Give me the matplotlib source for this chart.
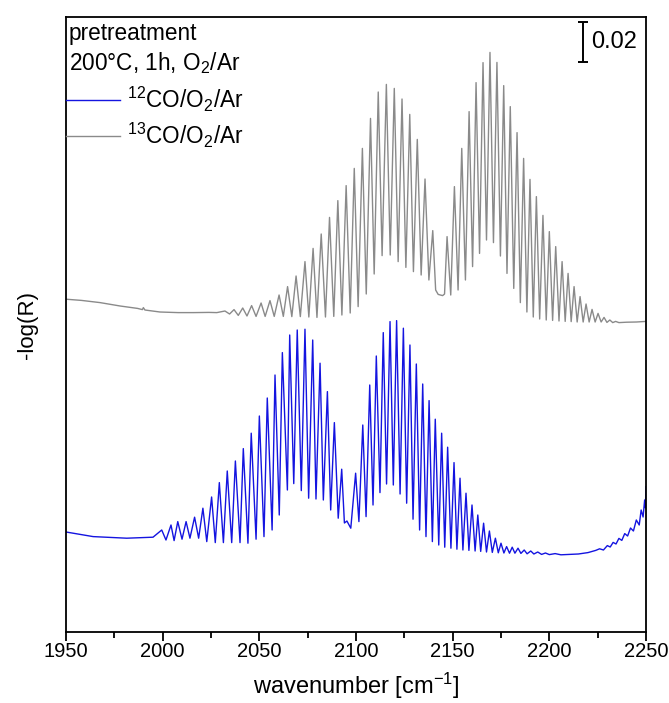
import matplotlib
matplotlib.use("Agg")
from matplotlib import pyplot as plt

plt.rcParams['font.family'] = ['Liberation Sans', 'DejaVu Sans']
plt.rcParams['mathtext.fontset'] = 'custom'
plt.rcParams['mathtext.rm'] = 'Liberation Sans'
plt.rcParams['mathtext.it'] = 'Liberation Sans:italic'

### 12CO/O2/Ar spectrum (blue), peaks and troughs
blue_wn = [1950.0, 1964.0, 1981.4, 1995.0,
           1999.5, 2001.7, 2004.3, 2005.9, 2007.8, 2010.0, 2012.1, 2014.1,
           2016.5, 2018.6, 2020.8, 2022.8, 2025.3, 2027.2, 2029.3, 2031.4,
           2033.4, 2035.7, 2037.6, 2040.0, 2041.7, 2044.1, 2045.8, 2048.3,
           2050.0, 2052.4, 2054.1, 2056.6, 2058.1, 2060.3, 2061.9, 2064.5,
           2065.7, 2067.8, 2069.6, 2071.7, 2073.6, 2075.5, 2077.6, 2079.3,
           2081.4, 2083.1, 2085.2, 2086.9, 2088.8, 2090.8, 2092.6, 2094.0,
           2095.3, 2097.3,
           2099.8, 2101.5, 2103.5, 2105.2, 2107.1, 2108.8, 2110.5, 2112.4,
           2114.1, 2115.8, 2117.6, 2119.3, 2121.0, 2122.8, 2124.5, 2126.2,
           2127.9, 2129.5, 2131.2, 2132.9, 2134.5, 2136.2, 2137.8, 2139.5,
           2141.0, 2142.8, 2144.3, 2145.9, 2147.4, 2149.1, 2150.7, 2152.2,
           2153.8, 2155.3, 2156.9, 2158.4, 2160.0, 2161.6, 2163.0, 2164.5,
           2166.0, 2167.5, 2169.0, 2170.5, 2172.1, 2173.6, 2175.0, 2176.5,
           2177.9, 2179.4, 2180.8, 2182.2, 2183.8, 2185.3, 2187.0, 2188.5,
           2190.4, 2192.0, 2194.0, 2196.0, 2198.0, 2200.0, 2203.0, 2206.0,
           2210.0, 2215.0, 2220.0, 2224.0, 2226.0, 2228.0, 2230.0, 2231.5,
           2233.0, 2234.5, 2236.0, 2237.5, 2239.0, 2240.5, 2242.0, 2243.5,
           2245.0, 2246.5, 2247.5, 2248.5, 2249.3, 2249.7, 2250.0]
blue_abs = [0.0500, 0.0477, 0.0469, 0.0474,
            0.0510, 0.0460, 0.0535, 0.0457, 0.0552, 0.0464, 0.0552, 0.0469,
            0.0574, 0.0469, 0.0619, 0.0452, 0.0675, 0.0447, 0.0747, 0.0447,
            0.0805, 0.0447, 0.0855, 0.0447, 0.0917, 0.0444, 0.0994, 0.0464,
            0.1080, 0.0477, 0.1170, 0.0510, 0.1285, 0.0585, 0.1397, 0.0710,
            0.1485, 0.0742, 0.1510, 0.0707, 0.1514, 0.0669, 0.1460, 0.0665,
            0.1344, 0.0660, 0.1202, 0.0610, 0.1047, 0.0569, 0.0814, 0.0545,
            0.0555, 0.0519,
            0.0794, 0.0552, 0.1035, 0.0577, 0.1235, 0.0635, 0.1380, 0.0697,
            0.1497, 0.0740, 0.1552, 0.0735, 0.1557, 0.0690, 0.1519, 0.0644,
            0.1435, 0.0564, 0.1340, 0.0510, 0.1240, 0.0477, 0.1157, 0.0452,
            0.1064, 0.0435, 0.0994, 0.0424, 0.0924, 0.0419, 0.0847, 0.0414,
            0.0769, 0.0410, 0.0694, 0.0408, 0.0635, 0.0405, 0.0585, 0.0403,
            0.0544, 0.0400, 0.0505, 0.0398, 0.0469, 0.0396, 0.0444, 0.0395,
            0.0427, 0.0394, 0.0424, 0.0394, 0.0419, 0.0393, 0.0410, 0.0391,
            0.0405, 0.0390, 0.0400, 0.0388, 0.0395, 0.0387, 0.0392, 0.0386,
            0.0388, 0.0390, 0.0397, 0.0408, 0.0416, 0.0410, 0.0432, 0.0425,
            0.0448, 0.0440, 0.0468, 0.0458, 0.0492, 0.0480, 0.0520, 0.0505,
            0.0560, 0.0535, 0.0610, 0.0575, 0.0660, 0.0620, 0.0727]

### 13CO/O2/Ar spectrum (gray)
gray_wn = [1950.0, 1958.0, 1967.6, 1978.0, 1987.0, 1989.5, 1990.0, 1990.8,
           1998.6, 2008.0, 2016.0, 2024.0, 2028.0,
           2032.2, 2034.6, 2036.9, 2039.1, 2041.4, 2043.6, 2046.0, 2048.3,
           2050.9, 2053.0, 2055.5, 2057.7, 2060.2, 2062.4, 2064.6, 2066.8,
           2069.0, 2071.2, 2073.6, 2075.6, 2077.8, 2079.8, 2082.0, 2084.2,
           2086.3, 2088.5, 2090.6, 2092.7, 2094.9, 2097.0, 2099.1, 2101.1,
           2103.3, 2105.3, 2107.5, 2109.4, 2111.5, 2113.5, 2115.7, 2117.7,
           2119.8, 2121.8, 2123.8, 2125.8, 2127.8, 2129.7, 2131.7, 2133.7,
           2135.7, 2137.7, 2139.7, 2141.2, 2142.5, 2144.8, 2145.8,
           2147.1, 2149.0, 2150.9, 2152.8, 2154.7, 2156.6, 2158.5, 2160.3,
           2162.1, 2163.9, 2165.7, 2167.5, 2169.3, 2171.1, 2172.9, 2174.7,
           2176.4, 2178.1, 2179.8, 2181.6, 2183.3, 2185.0, 2186.7, 2188.4,
           2190.0, 2191.7, 2193.3, 2195.0, 2196.7, 2198.4, 2200.0, 2201.7,
           2203.3, 2205.0, 2206.6, 2208.2, 2209.7, 2211.3, 2212.8, 2214.4,
           2215.9, 2217.5, 2219.0, 2220.6, 2222.1, 2223.7, 2225.2, 2226.8,
           2228.3, 2229.8, 2231.3, 2232.8, 2234.3, 2236.0, 2240.0, 2245.0,
           2250.0]
gray_abs = [0.1664, 0.1658, 0.1647, 0.1630, 0.1618, 0.1612, 0.1622, 0.1610,
            0.1600, 0.1597, 0.1597, 0.1598, 0.1597,
            0.1605, 0.1590, 0.1612, 0.1583, 0.1620, 0.1580, 0.1632, 0.1578,
            0.1645, 0.1578, 0.1657, 0.1578, 0.1685, 0.1578, 0.1727, 0.1577,
            0.1780, 0.1577, 0.1852, 0.1575, 0.1918, 0.1573, 0.1990, 0.1575,
            0.2073, 0.1578, 0.2157, 0.1585, 0.2232, 0.1595, 0.2318, 0.1627,
            0.2418, 0.1690, 0.2568, 0.1790, 0.2700, 0.1882, 0.2738, 0.1885,
            0.2718, 0.1852, 0.2665, 0.1823, 0.2588, 0.1802, 0.2463, 0.1785,
            0.2265, 0.1760, 0.2007, 0.1710, 0.1688, 0.1682, 0.1690,
            0.1977, 0.1685, 0.2227, 0.1710, 0.2418, 0.1760, 0.2602, 0.1827,
            0.2747, 0.1893, 0.2847, 0.1960, 0.2898, 0.1947, 0.2848, 0.1880,
            0.2732, 0.1793, 0.2627, 0.1718, 0.2497, 0.1647, 0.2368, 0.1600,
            0.2263, 0.1575, 0.2177, 0.1565, 0.2083, 0.1560, 0.2002, 0.1558,
            0.1927, 0.1555, 0.1852, 0.1553, 0.1793, 0.1552, 0.1727, 0.1550,
            0.1677, 0.1550, 0.1640, 0.1550, 0.1613, 0.1550, 0.1593, 0.1550,
            0.1573, 0.1548, 0.1560, 0.1547, 0.1553, 0.1547, 0.1549, 0.1550,
            0.1553]

blue_label = r'$^{12}$CO/O$_2$/Ar'
gray_label = r'$^{13}$CO/O$_2$/Ar'
x_ticks = [1950, 2000, 2050, 2100, 2150, 2200, 2250]

fig = plt.figure(figsize=(6.69, 7.03), dpi=100)
ax = fig.add_axes([0.0987, 0.101, 0.8669, 0.8748])

l1, = ax.plot(blue_wn, blue_abs, color='#1414e0', lw=1.0, label=blue_label)
l2, = ax.plot(gray_wn, gray_abs, color='#8a8a8a', lw=1.0, label=gray_label)

ax.set_xlim(1950, 2250)
ax.set_ylim(0, 0.3075)
ax.set_xticks(x_ticks)
ax.set_xticks([1975, 2025, 2075, 2125, 2175, 2225], minor=True)
ax.set_yticks([])
ax.tick_params(axis='x', which='major', direction='out', length=6.5, width=1.3,
               labelsize=14.5, pad=0.5)
ax.tick_params(axis='x', which='minor', direction='out', length=4, width=1.3)
for sp in ax.spines.values():
    sp.set_linewidth(1.3)

ax.set_xlabel(r'wavenumber [cm$^{-1}$]', fontsize=17, labelpad=7)
ax.set_ylabel('-log(R)', fontsize=16, labelpad=20)

# header text
ax.text(0.005, 0.9626, 'pretreatment', transform=ax.transAxes, fontsize=16.3,
        va='baseline', ha='left')
ax.text(0.005, 0.9138, r'200°C, 1h, O$_2$/Ar', transform=ax.transAxes,
        fontsize=16.3, va='baseline', ha='left')

leg = ax.legend(handles=[l1, l2], loc='upper left', bbox_to_anchor=(0.0, 0.889),
                frameon=False, fontsize=16.3, borderpad=0, borderaxespad=0,
                handlelength=2.4, handletextpad=0.3, labelspacing=0.28)

# scale bar 0.02
ax.errorbar([2217.4], [0.295], yerr=0.01, color='k', lw=1.4, capsize=3.5,
            capthick=1.4)
ax.text(2221.5, 0.295, '0.02', fontsize=17, va='center', ha='left')

plt.savefig("out.png", dpi=100)
